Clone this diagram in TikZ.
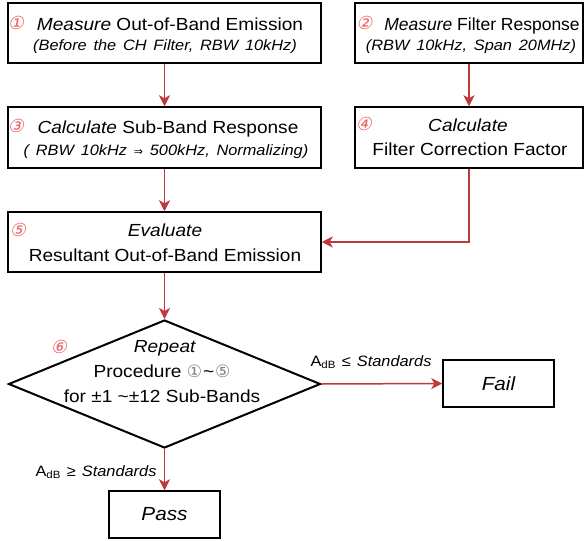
\documentclass[tikz,border=0pt]{standalone}
\usepackage{fontspec}
\setmainfont[FakeStretch=1.09]{Liberation Sans}
\newfontfamily\narrowf{Liberation Sans}
\newfontfamily\symf{DejaVu Sans}
\newfontfamily\circf[FakeSlant=0.2]{DejaVu Sans}
\usetikzlibrary{arrows.meta,shapes.geometric}
\definecolor{arrred}{RGB}{192,57,58}
\definecolor{numred}{RGB}{236,96,96}
\tikzset{
  box/.style={draw=black, line width=1.5pt, inner sep=0pt},
  arr/.style={draw=arrred, line width=1.5pt, -{Stealth[length=11pt,width=11pt,inset=3pt]}},
  big/.style={anchor=base, inner sep=0pt, font={\fontsize{17.5}{21}\selectfont}},
  sml/.style={anchor=base, inner sep=0pt, font={\fontsize{15}{18}\selectfont\itshape\spaceskip=0.45em\relax}},
  num/.style={inner sep=0pt, text=numred, font={\circf\fontsize{18}{18}\selectfont}},
  lbl/.style={anchor=base, inner sep=0pt, font={\fontsize{15}{18}\selectfont\spaceskip=0.4em\relax}},
  endbox/.style={box, minimum width=111pt, minimum height=47pt, font={\fontsize{19}{22}\selectfont\itshape}},
}
\begin{document}
\begin{tikzpicture}[x=1pt,y=-1pt]
\useasboundingbox (0,0) rectangle (584,541);
% boxes
\node[box, minimum width=313pt, minimum height=60pt] (b1) at (164.5,33) {};
\node[box, minimum width=228pt, minimum height=60pt] (b2) at (469,33) {};
\node[box, minimum width=313pt, minimum height=61pt] (b3) at (164.5,137.5) {};
\node[box, minimum width=228pt, minimum height=61pt] (b4) at (469,137.5) {};
\node[box, minimum width=313pt, minimum height=60pt] (b5) at (164.5,242) {};
\node[diamond, draw=black, line width=2pt, inner sep=0pt, minimum width=312pt, minimum height=128pt] (dia) at (164.5,384) {};
\node[endbox] (fail) at (498.5,383.5) {Fail};
\node[endbox] (pass) at (164.5,514.5) {Pass};
% texts
\node[big] (t1a) at (170,30) {\textit{Measure} Out-of-Band Emission};
\node[sml] (t1b) at (165,50) {(Before the CH Filter, RBW 10kHz)};
\node[num] (n1) at (16,23) {①};
\node[big, font={\narrowf\fontsize{17.5}{21}\selectfont}] (t2a) at (482,30) {\textit{Measure} Filter Response};
\node[sml] (t2b) at (471,50) {(RBW 10kHz, Span 20MHz)};
\node[num] (n2) at (364.5,23) {②};
\node[big] (t3a) at (168,133) {\textit{Calculate} Sub-Band Response};
\node[sml] (t3b) at (166,155) {( RBW 10kHz {\symf\upshape\fontsize{11}{12}\selectfont ⇒} 500kHz, Normalizing)};
\node[num] (n3) at (16,126) {③};
\node[big] (t4a) at (468,131.5) {\textit{Calculate}};
\node[big] (t4b) at (470,155) {Filter Correction Factor};
\node[num] (n4) at (364,124) {④};
\node[big] (t5a) at (165,236) {\textit{Evaluate}};
\node[big] (t5b) at (165,261) {Resultant Out-of-Band Emission};
\node[num] (n5) at (18,230) {⑤};
\node[big] (t6a) at (165,352) {\textit{Repeat}};
\node[big] (t6b) at (162,377) {Procedure {\symf\color{gray}\fontsize{17}{18}\selectfont ①}\kern1pt\textasciitilde\kern1pt{\symf\color{gray}\fontsize{17}{18}\selectfont ⑤}};
\node[big] (t6c) at (162,402) {for ±1 \textasciitilde±12 Sub-Bands};
\node[num] (n6) at (59,347) {⑥};
\node[lbl] (lf) at (371,366) {A\textsubscript{dB} ≤ \textit{Standards}};
\node[lbl] (lp) at (96,476) {A\textsubscript{dB} ≥ \textit{Standards}};
% arrows
\draw[arr] (b1.south) -- (b3.north);
\draw[arr] (b2.south) -- (b4.north);
\draw[arr] (b3.south) -- (b5.north);
\draw[arr] (b4.south) |- (b5.east);
\draw[arr] (b5.south) -- (dia.north);
\draw[arr] (dia.east) -- (fail.west);
\draw[arr] (dia.south) -- (pass.north);
\end{tikzpicture}
\end{document}
